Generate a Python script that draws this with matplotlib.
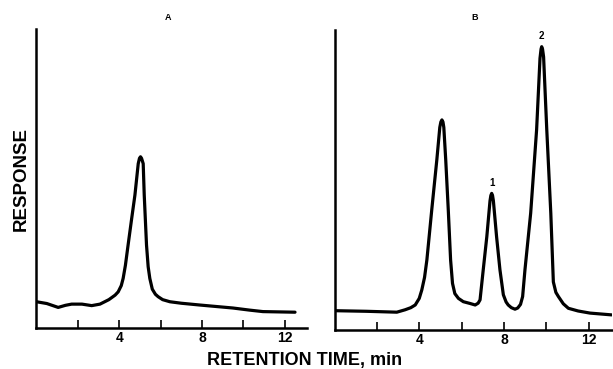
import matplotlib
matplotlib.use("Agg")
from matplotlib import pyplot as plt

# chromatogram A (time in min, response in % of axis height)
time_a = [0, 0.5, 1.05, 1.4, 1.7, 2.2, 2.67, 3.07, 3.5, 3.8, 3.95, 4.1, 4.19, 4.3,
          4.43, 4.6, 4.76, 4.92, 4.98, 5.03, 5.08, 5.16, 5.21, 5.32, 5.4, 5.48,
          5.6, 5.75, 5.88, 6.1, 6.45, 7.0, 7.9, 8.86, 9.5, 10.3, 10.95, 12.5]
resp_a = [8.8, 8.2, 6.9, 7.6, 8.0, 8.0, 7.5, 8.0, 9.5, 11.0, 12.1, 14.2, 16.6, 21.0,
          27.8, 36.5, 44.5, 55.0, 56.8, 57.3, 56.8, 55.0, 44.5, 27.8, 20.5, 16.6,
          13.0, 11.3, 10.5, 9.5, 8.8, 8.3, 7.7, 7.1, 6.7, 6.0, 5.5, 5.3]

# chromatogram B
time_b = [0, 1.5, 2.94, 3.33, 3.6, 3.81, 4.0, 4.12, 4.25, 4.36, 4.59, 4.83, 4.97,
          5.02, 5.07, 5.12, 5.16, 5.25, 5.37, 5.48, 5.57, 5.68, 5.85, 6.08, 6.4,
          6.64, 6.78, 6.87, 7.02, 7.19, 7.34, 7.38, 7.42, 7.46, 7.50, 7.65, 7.81,
          7.97, 8.1, 8.2, 8.35, 8.52, 8.65, 8.78, 8.88, 8.99, 9.26, 9.54, 9.7,
          9.75, 9.78, 9.82, 9.87, 10.02, 10.21, 10.33, 10.45, 10.57, 10.8, 11.04,
          11.5, 12.06, 13.08]
resp_b = [6.4, 6.2, 5.9, 6.7, 7.4, 8.3, 10.5, 13.3, 17.5, 23.3, 40, 56.7, 67.5,
          69.3, 70, 69.3, 67.5, 56.7, 40, 23.3, 15.5, 12.1, 10.5, 9.4, 8.8,
          8.3, 8.9, 10, 20, 31.1, 43.0, 44.8, 45.5, 44.8, 43.0, 31.1, 20,
          11.7, 9.3, 8.3, 7.4, 6.9, 7.3, 8.5, 11.1, 20, 38.9, 66.7, 90.5,
          93.6, 94.4, 93.6, 91.0, 66.7, 38.9, 16, 12.5, 11.1, 8.7, 7.2,
          6.3, 5.6, 5.0]

peak_labels = ["1", "2"]
peak_times = [7.42, 9.78]
peak_heights = [45.5, 94.4]

panel_titles = ["A", "B"]
tick_labels = [4, 8, 12]
minor_ticks = [2, 6, 10]

plt.rcParams["font.family"] = ["Liberation Sans", "DejaVu Sans"]
plt.rcParams["font.weight"] = "bold"

fig = plt.figure(figsize=(6.13, 3.69), dpi=100)
ax_a = fig.add_axes([0.0595, 0.111, 0.441, 0.810])
ax_b = fig.add_axes([0.5457, 0.106, 0.4527, 0.813])

for ax, t, r, xmax in [(ax_a, time_a, resp_a, 13.07), (ax_b, time_b, resp_b, 13.1)]:
    ax.plot(t, r, color="black", lw=2.3, solid_capstyle="round", solid_joinstyle="round")
    ax.set_xlim(0, xmax)
    ax.set_ylim(0, 100)
    for side in ["top", "right"]:
        ax.spines[side].set_visible(False)
    for side in ["left", "bottom"]:
        ax.spines[side].set_linewidth(1.8)
    ax.set_yticks([])
    ax.set_xticks(tick_labels)
    ax.set_xticks(minor_ticks, minor=True)
    ax.tick_params(axis="x", which="both", direction="in", length=5.5, width=1.2, pad=2,
                   labelsize=10)

ax_a.set_ylabel("RESPONSE", fontsize=13.5, fontweight="bold", labelpad=5)

for lab, t, h in zip(peak_labels, peak_times, peak_heights):
    ax_b.annotate(lab, (t, h), xytext=(0, 4), textcoords="offset points",
                  ha="center", va="bottom", fontsize=7)

fig.text(168 / 613, 1 - 17 / 369, panel_titles[0], ha="center", va="center", fontsize=6.5)
fig.text(475 / 613, 1 - 17 / 369, panel_titles[1], ha="center", va="center", fontsize=6.5)
fig.text(305 / 613, 1 - 360 / 369, "RETENTION TIME, min", ha="center", va="center",
         fontsize=13, fontweight="bold")

fig.savefig("out.png", dpi=100)
